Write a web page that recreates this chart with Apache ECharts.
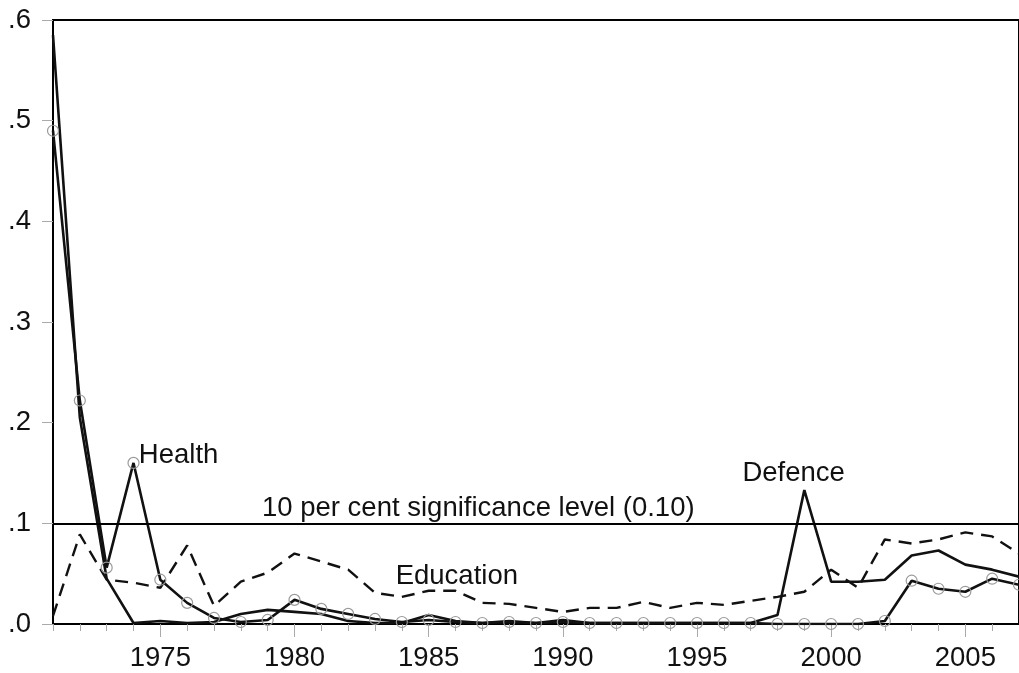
<!DOCTYPE html>
<html>
<head>
<meta charset="utf-8">
<script src="https://cdn.jsdelivr.net/npm/echarts@6/dist/echarts.min.js"></script>
<style>
html,body{margin:0;padding:0;background:#fff;}
#chart{width:1019px;height:673px;}
</style>
</head>
<body>
<div id="chart"></div>
<script>
// years on the x axis
var years = [];
for (var y = 1971; y <= 2007; y++) years.push(y);

var xLabels = [1975, 1980, 1985, 1990, 1995, 2000, 2005];

// p-values
var health = [0.490,0.222,0.056,0.160,0.044,0.021,0.006,0.002,0.004,0.024,
	0.015,0.010,0.005,0.002,0.004,0.002,0.001,0.002,0.001,0.002,
	0.001,0.001,0.001,0.001,0.001,0.001,0.001,0.000,0.000,0.000,
	0.000,0.003,0.043,0.035,0.032,0.045,0.039];
var defence = [0.585,0.205,0.045,0.001,0.003,0.001,0.002,0.010,0.014,0.012,
	0.010,0.003,0.001,0.001,0.009,0.003,0.001,0.003,0.001,0.004,
	0.001,0.001,0.001,0.001,0.001,0.001,0.001,0.009,0.133,0.042,
	0.042,0.044,0.068,0.073,0.059,0.054,0.047];
var education = [0.008,0.089,0.044,0.041,0.036,0.078,0.018,0.042,0.051,0.070,
	0.062,0.054,0.031,0.027,0.033,0.033,0.021,0.020,0.016,0.012,
	0.016,0.016,0.022,0.016,0.021,0.019,0.023,0.027,0.032,0.054,
	0.036,0.084,0.080,0.084,0.091,0.087,0.070];

var sigLevel = 0.10;

// text notes (data coordinates)
var noteText = ["Health", "10 per cent significance level (0.10)", "Education", "Defence"];
var noteX = [1974.2, 1986.85, 1986.05, 1998.6];
var noteY = [0.167, 0.1145, 0.047, 0.150];
var noteAlign = ["left", "center", "center", "center"];

function pairs(vals){
	var out = [];
	for (var i = 0; i < years.length; i++) out.push([years[i], vals[i]]);
	return out;
}

var font = "'Liberation Sans', Arial, sans-serif";
var ink = '#111';

var notes = [];
for (var i = 0; i < noteText.length; i++) {
	notes.push({
		value: [noteX[i], noteY[i]],
		label: {show: true, formatter: noteText[i], align: noteAlign[i]}
	});
}

var chart = echarts.init(document.getElementById('chart'));
var option = {
	animation: false,
	backgroundColor: '#fff',
	grid: {left: 53, right: -8, top: 20, bottom: 49, show: true, borderColor: '#000', borderWidth: 2, backgroundColor: '#fff'},
	xAxis: [{
		type: 'value', min: 1971, max: 2007,
		axisLine: {show: false},
		splitLine: {show: false},
		axisTick: {show: true, length: 13, customValues: xLabels, lineStyle: {color: '#aaa', width: 1}},
		axisLabel: {customValues: xLabels, margin: 20, color: ink, fontSize: 27.5, fontFamily: font, formatter: function(v){ return String(v); }}
	}, {
		type: 'value', min: 1971, max: 2007, position: 'bottom',
		axisLine: {show: false},
		splitLine: {show: false},
		axisLabel: {show: false},
		axisTick: {show: true, length: 7, customValues: years, lineStyle: {color: '#aaa', width: 1}}
	}],
	yAxis: {
		type: 'value', min: 0, max: 0.6, interval: 0.1,
		axisLine: {show: false},
		splitLine: {show: false},
		axisTick: {show: true, length: 11, lineStyle: {color: '#aaa', width: 1}},
		axisLabel: {margin: 22, color: ink, fontSize: 27.5, fontFamily: font,
			formatter: function(v){ return v.toFixed(1).replace(/^0/, ''); }}
	},
	series: [{
		name: 'Education', type: 'line', data: pairs(education),
		symbol: 'none', lineStyle: {color: ink, width: 2.4, type: [13, 8]},
		markLine: {silent: true, symbol: 'none', label: {show: false},
			lineStyle: {color: '#000', width: 2, type: 'solid'},
			data: [{yAxis: sigLevel}]}
	}, {
		name: 'Defence', type: 'line', data: pairs(defence),
		symbol: 'none', lineStyle: {color: ink, width: 2.6}
	}, {
		name: 'Health', type: 'line', data: pairs(health),
		symbol: 'circle', symbolSize: 11, showAllSymbol: true,
		itemStyle: {color: 'rgba(0,0,0,0)', borderColor: '#9a9a9a', borderWidth: 1.2},
		lineStyle: {color: ink, width: 2.6}
	}, {
		name: 'notes', type: 'scatter', data: notes, symbolSize: 0, silent: true,
		itemStyle: {opacity: 1},
		label: {show: true, position: 'inside', verticalAlign: 'middle', color: ink,
			textBorderWidth: 0, fontSize: 27.5, fontFamily: font}
	}]
};
chart.setOption(option);
</script>
</body>
</html>
